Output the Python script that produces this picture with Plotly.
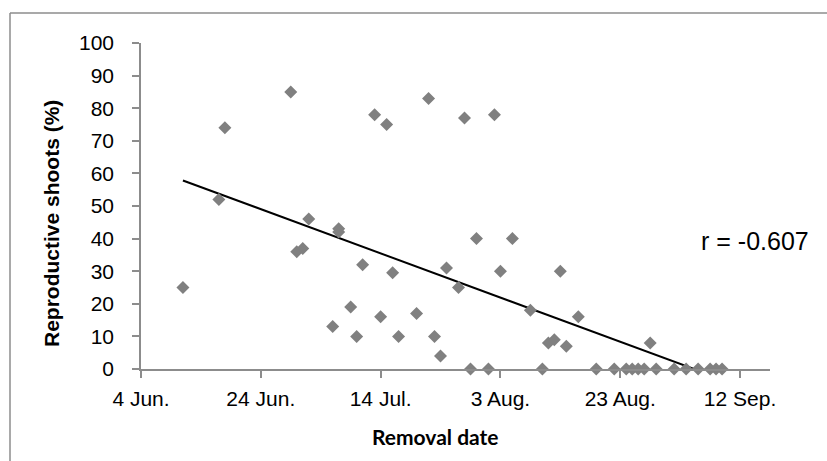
import numpy as np
import pandas as pd
import plotly.graph_objects as go

# Removal dates and share of reproductive shoots (%)
removal_dates = [
    "2010-06-11", "2010-06-17", "2010-06-18", "2010-06-29", "2010-06-30",
    "2010-07-01", "2010-07-02", "2010-07-06", "2010-07-07", "2010-07-07",
    "2010-07-09", "2010-07-10", "2010-07-11", "2010-07-13", "2010-07-14",
    "2010-07-15", "2010-07-16", "2010-07-17", "2010-07-20", "2010-07-22",
    "2010-07-23", "2010-07-24", "2010-07-25", "2010-07-27", "2010-07-28",
    "2010-07-29", "2010-07-30", "2010-08-01", "2010-08-02", "2010-08-03",
    "2010-08-05", "2010-08-08", "2010-08-10", "2010-08-11", "2010-08-12",
    "2010-08-13", "2010-08-14", "2010-08-16", "2010-08-19", "2010-08-22",
    "2010-08-24", "2010-08-25", "2010-08-26", "2010-08-27", "2010-08-28",
    "2010-08-29", "2010-09-01", "2010-09-03", "2010-09-05", "2010-09-07",
    "2010-09-08", "2010-09-09",
]
reproductive_pct = [
    25, 52, 74, 85, 36,
    37, 46, 13, 43, 42,
    19, 10, 32, 78, 16,
    75, 29.5, 10, 17, 83,
    10, 4, 31, 25, 77,
    0, 40, 0, 78, 30,
    40, 18, 0, 8, 9,
    30, 7, 16, 0, 0,
    0, 0, 0, 0, 8,
    0, 0, 0, 0, 0,
    0, 0,
]

x_start, x_end = "2010-06-04", "2010-09-17"
tick_dates = ["2010-06-04", "2010-06-24", "2010-07-14", "2010-08-03", "2010-08-23", "2010-09-12"]
tick_labels = ["4 Jun.", "24 Jun.", "14 Jul.", "3 Aug.", "23 Aug.", "12 Sep."]
r_label = "r = -0.607"

# Linear trend fitted on day numbers
dates = pd.to_datetime(removal_dates)
days = (dates - dates.min()).days.to_numpy(dtype=float)
vals = np.array(reproductive_pct, dtype=float)
slope, intercept = np.polyfit(days, vals, 1)
trend_x = [dates.min(), dates.max()]
trend_y = [intercept, intercept + slope * days.max()]

W, H = 827, 461
ml, mr, mt, mb = 141, 57, 43, 92
pw, ph = W - ml - mr, H - mt - mb


def px(x):
    return (x - ml) / pw


def py(y):
    return (H - mb - y) / ph


fig = go.Figure()
fig.add_trace(go.Scatter(
    x=trend_x, y=trend_y, mode="lines",
    line=dict(color="black", width=2), hoverinfo="skip", showlegend=False,
))
fig.add_trace(go.Scatter(
    x=dates, y=vals, mode="markers",
    marker=dict(symbol="diamond", size=10, color="#808080"),
    showlegend=False, cliponaxis=False,
))

axis_font = dict(family="Liberation Sans, Arial, sans-serif", size=21, color="black")
fig.update_xaxes(
    type="date", range=[x_start, x_end],
    tickmode="array", tickvals=tick_dates, ticktext=tick_labels,
    showline=True, linecolor="#8c8c8c", linewidth=1.5,
    ticks="outside", ticklen=7, tickcolor="#8c8c8c", tickwidth=1.5,
    showgrid=False, zeroline=False, tickfont=axis_font, ticklabelstandoff=3,
)
fig.update_yaxes(
    range=[0, 100], tickmode="array", tickvals=list(range(0, 101, 10)),
    showline=True, linecolor="#8c8c8c", linewidth=1.5,
    ticks="outside", ticklen=7, tickcolor="#8c8c8c", tickwidth=1.5,
    showgrid=False, zeroline=False, tickfont=axis_font, ticklabelstandoff=14,
)

fig.update_layout(
    width=W, height=H, margin=dict(l=ml, r=mr, t=mt, b=mb),
    paper_bgcolor="white", plot_bgcolor="white",
    annotations=[
        dict(text="<b>Reproductive shoots (%)</b>", textangle=-90,
             x=px(51), y=py(224), xref="paper", yref="paper",
             xanchor="center", yanchor="middle", showarrow=False,
             font=dict(family="Liberation Sans, Arial, sans-serif", size=21, color="black")),
        dict(text="<b>Removal date</b>",
             x=px(435), y=py(437), xref="paper", yref="paper",
             xanchor="center", yanchor="middle", showarrow=False,
             font=dict(family="Lato, sans-serif", size=21, color="black")),
        dict(text=r_label,
             x=px(699), y=py(241), xref="paper", yref="paper",
             xanchor="left", yanchor="middle", showarrow=False,
             font=dict(family="Liberation Sans, Arial, sans-serif", size=25, color="black")),
    ],
    shapes=[
        dict(type="line", xref="paper", yref="paper",
             x0=px(10), y0=py(13), x1=px(W + 5), y1=py(13),
             line=dict(color="#8c8c8c", width=1.5)),
        dict(type="line", xref="paper", yref="paper",
             x0=px(10), y0=py(13), x1=px(10), y1=py(H + 5),
             line=dict(color="#8c8c8c", width=1.5)),
    ],
)

fig.write_html("out.html")
